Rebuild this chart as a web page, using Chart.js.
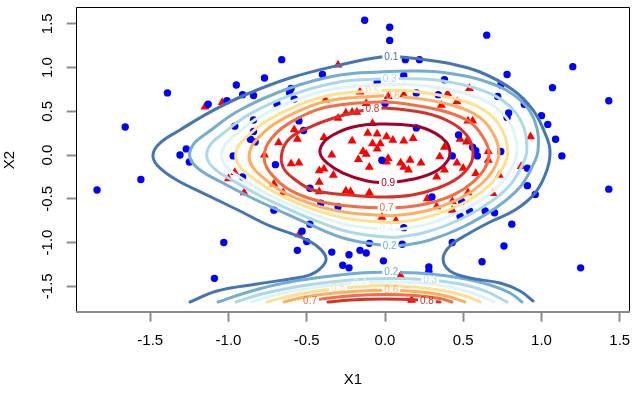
<!DOCTYPE html>
<html>
<head>
<meta charset="utf-8">
<script src="https://cdn.jsdelivr.net/npm/chart.js@4.4.1/dist/chart.umd.min.js"></script>
<style>
html, body { margin: 0; padding: 0; background: #fff; }
canvas { display: block; }
</style>
</head>
<body>
<canvas id="chart" width="635" height="397"></canvas>
<script>
const xTicks = [-1.5, -1.0, -0.5, 0.0, 0.5, 1.0, 1.5]
const yTicks = [-1.5, -1.0, -0.5, 0.0, 0.5, 1.0, 1.5]
const xRange = [-1.970, 1.561]
const yRange = [-1.791, 1.677]

// class 0 (blue circles)
const bluePoints = [
  [-1.84,-0.40],[-1.66,0.32],[-1.56,-0.28],[-1.39,0.71],[-1.31,0.00],[-1.27,0.07],[-1.25,-0.08],
  [-1.13,0.58],[-1.09,-1.41],[-1.03,-1.00],[-1.01,0.62],[-0.97,-0.01],[-0.96,0.33],[-0.95,0.80],
  [-0.91,0.69],[-0.91,-0.25],[-0.86,0.18],[-0.84,0.40],[-0.84,0.68],[-0.84,0.27],[-0.83,0.15],
  [-0.77,0.88],[-0.71,-0.63],[-0.70,-0.11],[-0.69,0.58],[-0.66,1.09],[-0.60,0.76],[-0.61,0.71],
  [-0.58,0.64],[-0.56,-1.09],[-0.55,0.39],[-0.53,-0.87],[-0.52,0.28],[-0.50,-0.99],[-0.48,-0.79],
  [-0.48,-0.38],[-0.41,-0.55],[-0.40,0.92],[-0.34,-1.11],[-0.30,-0.59],[-0.27,-1.26],[-0.23,-1.29],
  [-0.23,-1.14],[-0.16,-1.09],[-0.12,-1.12],[-0.13,1.54],[-0.10,-1.01],[-0.05,0.83],[-0.02,-0.06],
  [-0.01,-1.21],[0.00,0.59],[0.03,1.46],[0.03,1.31],[0.11,-1.02],[0.12,0.91],[0.12,-0.83],
  [0.13,1.09],[0.20,0.71],[0.20,0.31],[0.22,1.09],[0.28,-1.28],[0.28,-1.33],[0.30,-0.48],
  [0.34,0.69],[0.38,0.86],[0.43,-1.00],[0.43,-0.01],[0.47,0.23],[0.49,-0.53],[0.48,-0.70],
  [0.54,-0.64],[0.56,0.09],[0.58,0.05],[0.59,-0.01],[0.62,-1.22],[0.64,-0.64],[0.65,1.37],
  [0.70,-0.66],[0.72,0.67],[0.74,0.04],[0.74,0.80],[0.76,-1.04],[0.78,0.92],[0.79,0.48],
  [0.78,0.43],[0.81,-0.79],[0.89,0.58],[0.91,-0.15],[0.91,-0.35],[0.96,-0.45],[1.00,0.45],
  [1.04,0.35],[1.07,0.77],[1.09,0.18],[1.13,-0.01],[1.20,1.01],[1.25,-1.29],[1.43,0.62],[1.43,-0.39]
]

// class 1 (red triangles)
const redPoints = [
  [-1.15,0.55],[-1.04,0.60],[-0.30,1.03],[-0.96,-0.20],[-1.00,-0.27],[-0.90,-0.43],[-0.77,0.00],
  [-0.71,-0.33],[-0.65,-0.43],[-0.68,0.14],[-0.58,0.29],[-0.56,0.18],[-0.55,-0.91],[-0.60,-0.10],
  [-0.55,-0.09],[-0.42,-0.18],[-0.39,-0.16],[-0.33,-0.23],[-0.42,-0.31],[-0.42,-0.42],[-0.25,-0.41],
  [-0.22,-0.42],[-0.10,-0.43],[-0.02,-0.71],[0.07,-0.75],[0.10,-1.38],[0.17,-1.66],[-0.38,0.63],
  [-0.16,0.72],[-0.12,0.59],[-0.25,0.48],[-0.21,0.49],[-0.18,0.49],[-0.30,0.42],[-0.08,0.36],
  [-0.39,0.20],[-0.21,0.16],[-0.11,0.25],[-0.05,0.24],[-0.08,0.13],[-0.03,0.13],[-0.14,0.04],
  [-0.12,0.01],[-0.05,0.07],[-0.34,0.00],[-0.17,-0.05],[-0.10,-0.14],[0.01,0.21],[0.05,0.17],
  [0.12,0.16],[0.18,0.19],[0.02,-0.04],[0.01,-0.08],[0.10,-0.09],[0.16,-0.06],[0.23,-0.09],
  [0.15,-0.17],[0.12,-0.14],[0.35,-0.02],[0.38,0.09],[0.38,-0.17],[0.46,-0.09],[0.50,-0.15],
  [0.33,-0.25],[0.58,-0.21],[0.48,0.18],[0.52,0.15],[0.53,0.39],[0.56,0.39],[0.46,0.61],
  [0.40,0.70],[0.36,0.57],[0.54,0.76],[0.12,0.69],[0.02,0.67],[0.66,0.04],[0.66,-0.06],
  [0.69,-0.44],[0.27,-0.50],[0.43,-0.53],[0.53,-0.43],[0.73,-0.23],[0.33,-0.59],[0.43,-0.63],
  [0.93,0.21],[0.87,-0.13]
]

const levels = ['0.1', '0.2', '0.3', '0.4', '0.5', '0.6', '0.7', '0.8', '0.9']
const levelColors = ['#4575B4', '#74ADD1', '#ABD9E9', '#E0F3F8', '#FEE090', '#FDAE61', '#F46D43', '#D73027', '#A50026']

// contour lines (x1, x2)
const contour01 = [[-1.246,-1.680],[-1.074,-1.554],[-0.818,-1.474],[-0.607,-1.417],[-0.479,-1.371],[-0.403,-1.280],[-0.377,-1.177],[-0.428,-1.051],[-0.543,-0.937],[-0.735,-0.811],[-0.927,-0.640],[-1.150,-0.446],[-1.342,-0.274],[-1.457,-0.114],[-1.482,0.011],[-1.438,0.137],[-1.310,0.286],[-1.118,0.491],[-0.895,0.686],[-0.607,0.880],[-0.288,1.029],[-0.026,1.120],[0.096,1.120],[0.224,1.097],[0.396,1.051],[0.607,0.949],[0.818,0.743],[0.946,0.514],[1.022,0.251],[1.054,0.057],[1.035,-0.171],[0.959,-0.434],[0.831,-0.629],[0.671,-0.766],[0.530,-0.903],[0.415,-1.040],[0.371,-1.189],[0.415,-1.326],[0.543,-1.406],[0.735,-1.463],[0.863,-1.554],[0.946,-1.669]]
const contour02 = [[0.032,-1.040],[-0.160,-0.994],[-0.288,-0.937],[-0.460,-0.811],[-0.671,-0.640],[-0.863,-0.480],[-1.035,-0.320],[-1.182,-0.171],[-1.246,-0.034],[-1.227,0.114],[-1.137,0.251],[-0.927,0.514],[-0.607,0.766],[-0.288,0.914],[-0.032,0.949],[0.181,0.960],[0.396,0.937],[0.671,0.823],[0.863,0.629],[0.959,0.377],[0.978,0.057],[0.939,-0.137],[0.863,-0.366],[0.716,-0.594],[0.498,-0.823],[0.288,-0.971],[0.128,-1.029],[0.032,-1.040]]
const contour03 = [[0.030,0.870],[0.160,0.873],[0.346,0.853],[0.608,0.747],[0.789,0.571],[0.882,0.338],[0.906,0.049],[0.870,-0.140],[0.794,-0.353],[0.654,-0.560],[0.450,-0.760],[0.259,-0.883],[0.118,-0.930],[0.032,-0.940],[-0.160,-0.902],[-0.283,-0.854],[-0.447,-0.748],[-0.642,-0.598],[-0.811,-0.454],[-0.960,-0.304],[-1.084,-0.166],[-1.137,-0.034],[-1.120,0.109],[-1.043,0.235],[-0.865,0.467],[-0.592,0.690],[-0.307,0.830],[-0.032,0.870],[0.030,0.870]]
const contour04 = [[0.032,-0.853],[-0.160,-0.822],[-0.279,-0.782],[-0.435,-0.693],[-0.616,-0.561],[-0.767,-0.431],[-0.895,-0.290],[-0.998,-0.162],[-1.043,-0.034],[-1.026,0.104],[-0.961,0.222],[-0.811,0.426],[-0.579,0.623],[-0.324,0.757],[-0.032,0.802],[0.140,0.805],[0.303,0.780],[0.553,0.680],[0.725,0.521],[0.816,0.303],[0.843,0.042],[0.810,-0.142],[0.734,-0.341],[0.600,-0.530],[0.408,-0.705],[0.233,-0.807],[0.109,-0.845],[0.032,-0.853]]
const contour05 = [[-0.080,0.733],[-0.032,0.736],[0.120,0.737],[0.261,0.710],[0.500,0.617],[0.665,0.473],[0.753,0.271],[0.784,0.036],[0.753,-0.144],[0.676,-0.331],[0.549,-0.502],[0.368,-0.653],[0.209,-0.734],[0.100,-0.763],[0.032,-0.771],[-0.160,-0.746],[-0.276,-0.714],[-0.425,-0.641],[-0.592,-0.527],[-0.724,-0.409],[-0.833,-0.277],[-0.917,-0.157],[-0.953,-0.034],[-0.937,0.100],[-0.883,0.209],[-0.760,0.387],[-0.567,0.560],[-0.339,0.688],[-0.080,0.733]]
const contour06 = [[0.050,0.672],[0.222,0.644],[0.451,0.557],[0.607,0.427],[0.693,0.240],[0.728,0.030],[0.699,-0.147],[0.622,-0.320],[0.501,-0.476],[0.330,-0.604],[0.186,-0.665],[0.092,-0.686],[0.032,-0.693],[-0.160,-0.674],[-0.272,-0.649],[-0.414,-0.592],[-0.569,-0.494],[-0.684,-0.389],[-0.774,-0.265],[-0.840,-0.153],[-0.868,-0.034],[-0.853,0.096],[-0.810,0.197],[-0.712,0.350],[-0.556,0.500],[-0.354,0.622],[-0.032,0.675],[0.050,0.672]]
const contour07 = [[0.032,-0.606],[-0.160,-0.594],[-0.268,-0.577],[-0.403,-0.537],[-0.543,-0.457],[-0.639,-0.366],[-0.709,-0.251],[-0.754,-0.149],[-0.773,-0.034],[-0.760,0.091],[-0.728,0.183],[-0.658,0.309],[-0.543,0.434],[-0.371,0.549],[-0.032,0.606],[0.179,0.571],[0.396,0.491],[0.543,0.377],[0.626,0.206],[0.665,0.023],[0.639,-0.149],[0.562,-0.309],[0.447,-0.446],[0.288,-0.549],[0.160,-0.589],[0.083,-0.600],[0.032,-0.606]]
const contour08 = [[-0.080,0.520],[0.000,0.537],[0.256,0.480],[0.428,0.366],[0.530,0.206],[0.562,0.034],[0.543,-0.114],[0.466,-0.263],[0.339,-0.377],[0.173,-0.457],[0.000,-0.480],[-0.224,-0.457],[-0.460,-0.400],[-0.588,-0.263],[-0.652,-0.137],[-0.658,0.034],[-0.607,0.194],[-0.479,0.320],[-0.307,0.434],[-0.160,0.503],[-0.080,0.520]]
const contour09 = [[0.019,-0.320],[-0.115,-0.297],[-0.268,-0.206],[-0.371,-0.091],[-0.415,0.023],[-0.396,0.137],[-0.332,0.229],[-0.204,0.320],[-0.032,0.354],[0.192,0.331],[0.320,0.251],[0.396,0.137],[0.415,0.034],[0.403,-0.057],[0.339,-0.171],[0.211,-0.263],[0.019,-0.320]]

// lower bump, cut by the bottom of the grid
const lower02 = [[-1.067,-1.680],[-0.895,-1.577],[-0.703,-1.486],[-0.511,-1.423],[-0.288,-1.371],[-0.096,-1.343],[0.096,-1.343],[0.288,-1.360],[0.479,-1.406],[0.671,-1.486],[0.799,-1.577],[0.875,-1.680]]
const lower03 = [[-0.952,-1.680],[-0.786,-1.589],[-0.575,-1.509],[-0.351,-1.451],[-0.128,-1.417],[0.096,-1.411],[0.288,-1.429],[0.479,-1.474],[0.639,-1.554],[0.780,-1.680]]
const lower04 = [[-0.856,-1.680],[-0.703,-1.600],[-0.511,-1.531],[-0.288,-1.480],[0.000,-1.451],[0.224,-1.463],[0.415,-1.509],[0.575,-1.589],[0.697,-1.680]]
const lower05 = [[-0.754,-1.680],[-0.607,-1.611],[-0.415,-1.549],[-0.192,-1.509],[0.000,-1.491],[0.192,-1.509],[0.383,-1.554],[0.511,-1.611],[0.607,-1.680]]
const lower06 = [[-0.645,-1.680],[-0.511,-1.623],[-0.320,-1.577],[-0.096,-1.549],[0.096,-1.549],[0.288,-1.577],[0.415,-1.623],[0.511,-1.680]]
const lower07 = [[-0.511,-1.680],[-0.383,-1.640],[-0.192,-1.606],[0.000,-1.594],[0.192,-1.606],[0.351,-1.640],[0.428,-1.680]]
const lower08 = [[-0.364,-1.680],[-0.224,-1.657],[0.000,-1.646],[0.224,-1.657],[0.351,-1.680]]

// where the level labels sit on each line
const mainLabelPos = [[0.04,1.12],[0.03,-1.04],[0.03,0.87],[0.01,-0.85],[-0.08,0.733],[0.05,0.672],[0.01,-0.606],[-0.08,0.52],[0.02,-0.32]]
const lowerLabelPos = [[0.04,-1.343],[0.288,-1.43],[-0.16,-1.465],[-0.30,-1.528],[0.04,-1.549],[-0.479,-1.668],[0.268,-1.667]]

const mainLines = [contour01, contour02, contour03, contour04, contour05, contour06, contour07, contour08, contour09]
const lowerLines = [lower02, lower03, lower04, lower05, lower06, lower07, lower08]

const FONT = "'Liberation Sans', Arial, sans-serif"
const LABEL_FONT = '10px ' + FONT

function lineSet(pts, li, labelAt) {
  return {
    data: pts.map(([x, y]) => ({ x, y })),
    showLine: true,
    borderColor: levelColors[li],
    borderWidth: 3,
    borderCapStyle: 'round',
    borderJoinStyle: 'round',
    tension: 0.4,
    pointRadius: 0,
    pointHoverRadius: 0,
    fill: false,
    order: 1,
    level: levels[li],
    labelAt: [labelAt]
  }
}

const datasets = [
  {
    data: bluePoints.map(([x, y]) => ({ x, y })),
    pointStyle: 'circle',
    pointRadius: 3.7,
    pointBackgroundColor: '#0000FF',
    pointBorderWidth: 0,
    order: 10
  },
  {
    data: redPoints.map(([x, y]) => ({ x, y })),
    pointStyle: 'triangle',
    pointRadius: 5.2,
    pointBackgroundColor: '#FF0000',
    pointBorderWidth: 0,
    order: 10
  }
]
mainLines.forEach((pts, i) => datasets.push(lineSet(pts, i, mainLabelPos[i])))
lowerLines.forEach((pts, i) => datasets.push(lineSet(pts, i + 1, lowerLabelPos[i])))

// gaps in the lines where the level labels go, then the labels and the box
const contourLabels = {
  id: 'contourLabels',
  beforeDatasetDraw(chart, args) {
    const ds = chart.data.datasets[args.index]
    if (!ds.labelAt) return
    const { ctx, scales } = chart
    ctx.save()
    ctx.font = LABEL_FONT
    ctx.beginPath()
    ctx.rect(0, 0, chart.width, chart.height)
    const w = ctx.measureText(ds.level).width + 4
    ds.labelAt.forEach(([x, y]) => {
      const px = scales.x.getPixelForValue(x)
      const py = scales.y.getPixelForValue(y)
      ctx.rect(px - w / 2, py - 6, w, 12)
    })
    ctx.clip('evenodd')
  },
  afterDatasetDraw(chart, args) {
    const ds = chart.data.datasets[args.index]
    if (!ds.labelAt) return
    chart.ctx.restore()
  },
  afterDatasetsDraw(chart) {
    const { ctx, scales } = chart
    ctx.save()
    ctx.font = LABEL_FONT
    ctx.textAlign = 'center'
    ctx.textBaseline = 'middle'
    chart.data.datasets.forEach(ds => {
      if (!ds.labelAt) return
      ctx.fillStyle = ds.borderColor
      ds.labelAt.forEach(([x, y]) => {
        ctx.fillText(ds.level, scales.x.getPixelForValue(x), scales.y.getPixelForValue(y))
      })
    })
    ctx.restore()
  },
  afterDraw(chart) {
    const { ctx, chartArea: a } = chart
    const l = Math.round(a.left) - 0.5, t = Math.round(a.top) - 0.5
    const r = Math.round(a.right) + 0.5, b = Math.round(a.bottom)
    ctx.save()
    ctx.strokeStyle = '#000'
    ctx.lineWidth = 1
    ctx.beginPath()
    ctx.moveTo(l, b)
    ctx.lineTo(l, t)
    ctx.lineTo(r, t)
    ctx.lineTo(r, b)
    ctx.stroke()
    ctx.strokeStyle = '#8a8a8a'
    ctx.lineWidth = 2
    ctx.beginPath()
    ctx.moveTo(l - 0.5, b)
    ctx.lineTo(r + 0.5, b)
    ctx.stroke()
    ctx.restore()
  }
}

new Chart(document.getElementById('chart'), {
  type: 'scatter',
  data: { datasets },
  options: {
    responsive: false,
    animation: false,
    devicePixelRatio: 1,
    layout: { padding: { left: 0, top: 8.3, right: 5.7, bottom: 0 } },
    plugins: {
      legend: { display: false },
      tooltip: { enabled: false }
    },
    scales: {
      x: {
        type: 'linear',
        min: xRange[0],
        max: xRange[1],
        afterBuildTicks: s => { s.ticks = xTicks.map(v => ({ value: v })) },
        afterFit: s => { s.height = 85.3; s.paddingLeft = 0; s.paddingRight = 0 },
        ticks: {
          autoSkip: false,
          maxRotation: 0,
          padding: 10,
          color: '#000',
          font: { family: FONT, size: 15 },
          callback: v => v.toFixed(1)
        },
        grid: { display: true, drawOnChartArea: false, drawTicks: true, tickLength: 10, tickWidth: 2, tickColor: '#8a8a8a' },
        border: { display: false },
        title: { display: true, text: 'X1', color: '#000', font: { family: FONT, size: 15 }, padding: { top: 0, bottom: 8 } }
      },
      y: {
        type: 'linear',
        min: yRange[0],
        max: yRange[1],
        afterBuildTicks: s => { s.ticks = yTicks.map(v => ({ value: v })) },
        afterFit: s => { s.width = 76.7; s.paddingTop = 0; s.paddingBottom = 0 },
        ticks: {
          autoSkip: false,
          minRotation: 90,
          maxRotation: 90,
          crossAlign: 'center',
          padding: 5.5,
          color: '#000',
          font: { family: FONT, size: 15 },
          callback: v => v.toFixed(1)
        },
        grid: { display: true, drawOnChartArea: false, drawTicks: true, tickLength: 10, tickWidth: 2, tickColor: '#8a8a8a' },
        border: { display: false },
        title: { display: true, text: 'X2', color: '#000', font: { family: FONT, size: 15 }, padding: { top: 1, bottom: 0 } }
      }
    }
  },
  plugins: [contourLabels]
})
</script>
</body>
</html>
